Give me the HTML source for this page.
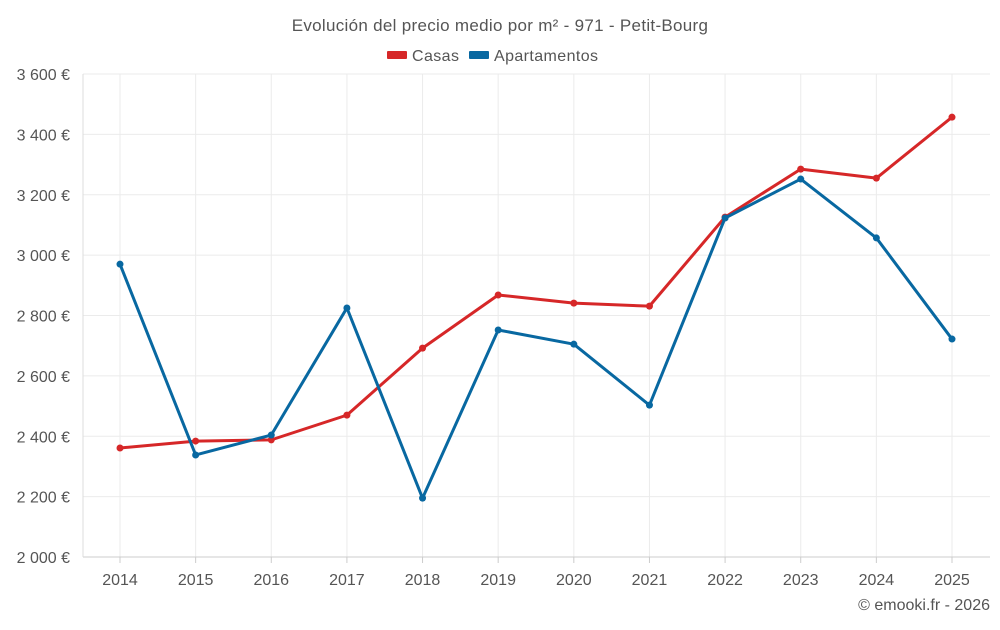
<!DOCTYPE html>
<html><head><meta charset="utf-8"><style>
body{margin:0;background:#fff;font-family:"Liberation Sans",sans-serif}
svg text{font-family:"Liberation Sans",sans-serif;fill:#555}
</style></head><body>
<svg id="c" width="1000" height="625" xmlns="http://www.w3.org/2000/svg">
<text x="500" y="31" text-anchor="middle" font-size="17" letter-spacing="0.3">Evolución del precio medio por m² - 971 - Petit-Bourg</text>
<g>
<g><rect x="387" y="51" width="20" height="8" fill="#d62728" rx="1"/><text x="412" y="61" font-size="16" letter-spacing="0.4">Casas</text></g>
<g><rect x="469" y="51" width="20" height="8" fill="#0868a1" rx="1"/><text x="494" y="61" font-size="16" letter-spacing="0.4">Apartamentos</text></g>
</g>
<g id="grid"></g><g id="axes"></g><g id="series"></g>
<text x="990" y="610" text-anchor="end" font-size="16">© emooki.fr - 2026</text>
</svg>
<script>
const years=[2014,2015,2016,2017,2018,2019,2020,2021,2022,2023,2024,2025];
const casas=[2361,2384,2388,2470,2692,2868,2841,2831,3126,3285,3255,3457];
const apartamentos=[2970,2338,2404,2825,2195,2752,2705,2503,3123,3252,3057,2722];
const yTicks=[2000,2200,2400,2600,2800,3000,3200,3400,3600];
const yLabels=["2 000 €","2 200 €","2 400 €","2 600 €","2 800 €","3 000 €","3 200 €","3 400 €","3 600 €"];
const NS="http://www.w3.org/2000/svg";
const L=83,R=990,T=74,B=557;
const x=i=>120+i*(952-120)/(years.length-1);
const y=v=>B-(v-2000)/(3600-2000)*(B-T);
function mk(t,a,p){const e=document.createElementNS(NS,t);for(const k in a)e.setAttribute(k,a[k]);p.appendChild(e);return e;}
const grid=document.getElementById('grid'),axes=document.getElementById('axes'),ser=document.getElementById('series');
yTicks.forEach((v,i)=>{
 const l=mk('line',{x1:L,x2:R,y1:y(v),y2:y(v),stroke:'#ebebeb'},grid);
 
 
 const t=mk('text',{x:70,y:y(v)+6,'text-anchor':'end','font-size':16},axes);
 t.textContent=yLabels[i];
 
 
});
years.forEach((yr,i)=>{
 const l=mk('line',{x1:x(i),x2:x(i),y1:T,y2:B,stroke:'#ebebeb'},grid);
 
 
 const tk=mk('line',{x1:x(i),x2:x(i),y1:B,y2:B+6,stroke:'#ccc'},axes);
 
 
 const t=mk('text',{x:x(i),y:585,'text-anchor':'middle','font-size':16},axes);
 t.textContent=yr;
 
 
});
const ax=mk('line',{x1:L,x2:R,y1:B,y2:B,stroke:'#ccc'},axes);


const ay=mk('line',{x1:L,x2:L,y1:T,y2:B,stroke:'#ddd'},axes);


function draw(vals,color,name){
 const g=mk('g',{},ser);
 
 
 const p=mk('polyline',{points:vals.map((v,i)=>x(i)+','+y(v)).join(' '),fill:'none',stroke:color,'stroke-width':3,'stroke-linejoin':'round'},g);
 
 
 vals.forEach((v,i)=>{
  const c=mk('circle',{cx:x(i),cy:y(v),r:3.5,fill:color},g);
  
  
 });
}
draw(casas,'#d62728','casas');
draw(apartamentos,'#0868a1','apartamentos');
</script>
</body></html>
